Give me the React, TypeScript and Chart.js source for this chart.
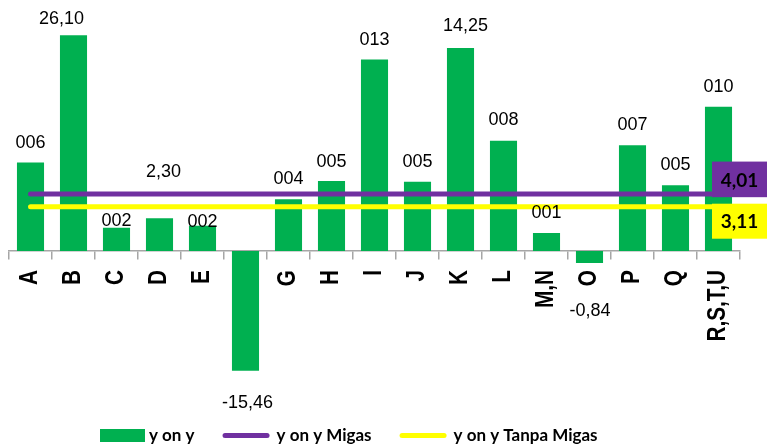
import React, { useEffect, useRef } from 'react';
import { Chart, registerables } from 'chart.js';

Chart.register(...registerables);

// ---------- data ----------
const categories = ['A', 'B', 'C', 'D', 'E', 'F', 'G', 'H', 'I', 'J', 'K', 'L', 'M,N', 'O', 'P', 'Q', 'R,S,T,U'];
const yoyValues = [6.22, 26.1, 1.64, 2.3, 1.78, -15.46, 3.63, 4.91, 13.45, 4.86, 14.25, 7.74, 1.26, -0.84, 7.42, 4.61, 10.13];
const yoyLabels = ['006', '26,10', '002', '2,30', '002', '-15,46', '004', '005', '013', '005', '14,25', '008', '001', '-0,84', '007', '005', '010'];
const migasValues = [4.01, 4.01, 4.01, 4.01, 4.01, 4.01, 4.01, 4.01, 4.01, 4.01, 4.01, 4.01, 4.01, 4.01, 4.01, 4.01, 4.01];
const tanpaMigasValues = [3.11, 3.11, 3.11, 3.11, 3.11, 3.11, 3.11, 3.11, 3.11, 3.11, 3.11, 3.11, 3.11, 3.11, 3.11, 3.11, 3.11];
const seriesNames = ['y on y', 'y on y Migas', 'y on y Tanpa Migas'];
const yAxisMin = -8.4;
const yAxisMax = 15.14;

// ---------- styles ----------
const GREEN = '#00B050';
const PURPLE = '#7030A0';
const YELLOW = '#FFFF00';
const AXIS_GREY = '#A6A6A6';
const labelFontSize = 18;
const labelFont = `${labelFontSize}px "Liberation Sans", Arial, sans-serif`;
// label offsets (px) from the bar end, as placed in the original
const labelDx = [0, -12, 0, 4, 0, 2, 0, 0, 0, 0, 5, 0, 0, 0.5, 0, 0, 0];
const labelDy = [-21, -18, -7.7, -48, -4.7, 31, -21.7, -20.3, -21, -21, -23, -21.7, -22, 46.7, -21.3, -21.3, -20.7];
const legendStyle = { left: 100, centerY: 435.5, font: 'bold 17px Lato, "Open Sans", sans-serif', spacing: 28 };
const valueBoxFont = 'bold 19px Lato, "Open Sans", sans-serif';
const tickNarrow = 0.83; // condensed look of the category labels
const tickShift = 12.4; // extra gap between tick marks and category labels

const fmt = (v: number) => v.toFixed(2).replace('.', ',');

const dataLabelPlugin = {
  id: 'barDataLabels',
  afterDatasetsDraw(chart: any) {
    const { ctx, chartArea } = chart;
    const meta = chart.getDatasetMeta(0);
    ctx.save();
    ctx.font = labelFont;
    ctx.fillStyle = '#000';
    ctx.textAlign = 'center';
    ctx.textBaseline = 'alphabetic';
    meta.data.forEach((bar: any, i: number) => {
      const end = Math.min(Math.max(bar.y, chartArea.top), chartArea.bottom);
      const cx = bar.x + labelDx[i];
      const cy = end + labelDy[i];
      ctx.fillText(yoyLabels[i], cx, cy + labelFontSize * 0.358);
    });

    // value boxes at right end of the lines
    const ys = chart.scales.y;
    const boxLeft = chartArea.right - 28;
    const boxRight = chart.width;
    const cx = (boxLeft + boxRight) / 2;
    const pm = ys.getPixelForValue(migasValues[migasValues.length - 1]);
    const pt = ys.getPixelForValue(tanpaMigasValues[tanpaMigasValues.length - 1]);
    ctx.fillStyle = PURPLE;
    ctx.fillRect(boxLeft, pm - 32.3, boxRight - boxLeft, 35.6);
    ctx.fillStyle = YELLOW;
    ctx.fillRect(boxLeft, pt - 3, boxRight - boxLeft, 35);
    ctx.font = valueBoxFont;
    ctx.fillStyle = '#000';
    ctx.textBaseline = 'middle';
    ctx.fillText(fmt(migasValues[migasValues.length - 1]), cx, pm - 13.3);
    ctx.fillText(fmt(tanpaMigasValues[tanpaMigasValues.length - 1]), cx, pt + 15);
    ctx.restore();
  },
};

// draws the x-axis labels condensed along their (vertical) direction
const narrowTicksPlugin = {
  id: 'narrowTicks',
  beforeDraw(chart: any) {
    const scale = chart.scales.x;
    if (!scale || scale.__narrowed) return;
    const orig = scale.drawLabels.bind(scale);
    scale.drawLabels = (area: any) => {
      const ctx = chart.ctx;
      const y0 = chart.scales.y.getPixelForValue(0);
      ctx.save();
      ctx.translate(0, y0 + tickShift);
      ctx.scale(1, tickNarrow);
      ctx.translate(0, -y0);
      orig(area);
      ctx.restore();
    };
    scale.__narrowed = true;
  },
};

const legendPlugin = {
  id: 'customLegend',
  afterDraw(chart: any) {
    const { ctx } = chart;
    ctx.save();
    ctx.font = legendStyle.font;
    ctx.textBaseline = 'middle';
    ctx.textAlign = 'left';
    let x = legendStyle.left;
    const cy = legendStyle.centerY;
    chart.data.datasets.forEach((ds: any, i: number) => {
      if (i === 0) {
        ctx.fillStyle = ds.backgroundColor;
        ctx.fillRect(x, cy - 6.5, 45, 13);
        x += 45 + 4;
      } else {
        ctx.strokeStyle = ds.borderColor;
        ctx.lineWidth = 5;
        ctx.lineCap = 'round';
        ctx.beginPath();
        ctx.moveTo(x + 2.5, cy);
        ctx.lineTo(x + 47 - 2.5, cy);
        ctx.stroke();
        x += 47 + 7;
      }
      ctx.fillStyle = '#000';
      ctx.fillText(ds.label, x, cy);
      x += ctx.measureText(ds.label).width + legendStyle.spacing;
    });
    ctx.restore();
  },
};

export default function App() {
  const canvasRef = useRef<HTMLCanvasElement | null>(null);

  useEffect(() => {
    document.body.style.margin = '0';
    const canvas = canvasRef.current;
    if (!canvas) return;
    const chart = new Chart(canvas, {
      type: 'bar',
      data: {
        labels: categories,
        datasets: [
          {
            type: 'bar',
            label: seriesNames[0],
            data: yoyValues,
            backgroundColor: GREEN,
            borderWidth: 0,
            barPercentage: 0.63,
            categoryPercentage: 1,
            order: 2,
          },
          {
            type: 'line',
            label: seriesNames[1],
            data: migasValues,
            borderColor: PURPLE,
            backgroundColor: PURPLE,
            borderWidth: 5,
            borderCapStyle: 'round',
            pointRadius: 0,
            fill: false,
            order: 1,
          },
          {
            type: 'line',
            label: seriesNames[2],
            data: tanpaMigasValues,
            borderColor: YELLOW,
            backgroundColor: YELLOW,
            borderWidth: 5,
            borderCapStyle: 'round',
            pointRadius: 0,
            fill: false,
            order: 1,
          },
        ] as any,
      },
      options: {
        animation: false,
        responsive: true,
        maintainAspectRatio: false,
        layout: { padding: { left: 9, right: 27, top: 35.3, bottom: 76.3 } },
        plugins: {
          legend: { display: false },
          tooltip: { enabled: false },
        },
        scales: {
          x: {
            position: { y: 0 } as any,
            offset: true,
            grid: {
              display: true,
              drawOnChartArea: false,
              drawTicks: true,
              tickLength: 8,
              color: AXIS_GREY,
              lineWidth: 1.5,
              offset: true,
            },
            border: { display: true, color: AXIS_GREY, width: 1.5 },
            ticks: {
              autoSkip: false,
              maxRotation: 90,
              minRotation: 90,
              padding: 0,
              color: '#000',
              font: {
                family: '"Liberation Sans", Arial, sans-serif',
                weight: 'bold',
                size: 25,
              },
            },
            afterFit: (s: any) => {
              s.height = 0;
            },
          },
          y: {
            display: false,
            min: yAxisMin,
            max: yAxisMax,
          },
        },
      },
      plugins: [narrowTicksPlugin, dataLabelPlugin, legendPlugin],
    });
    return () => chart.destroy();
  }, []);

  return (
    <div style={{ width: 767, height: 447, position: 'relative', background: '#fff' }}>
      <canvas ref={canvasRef} />
    </div>
  );
}
